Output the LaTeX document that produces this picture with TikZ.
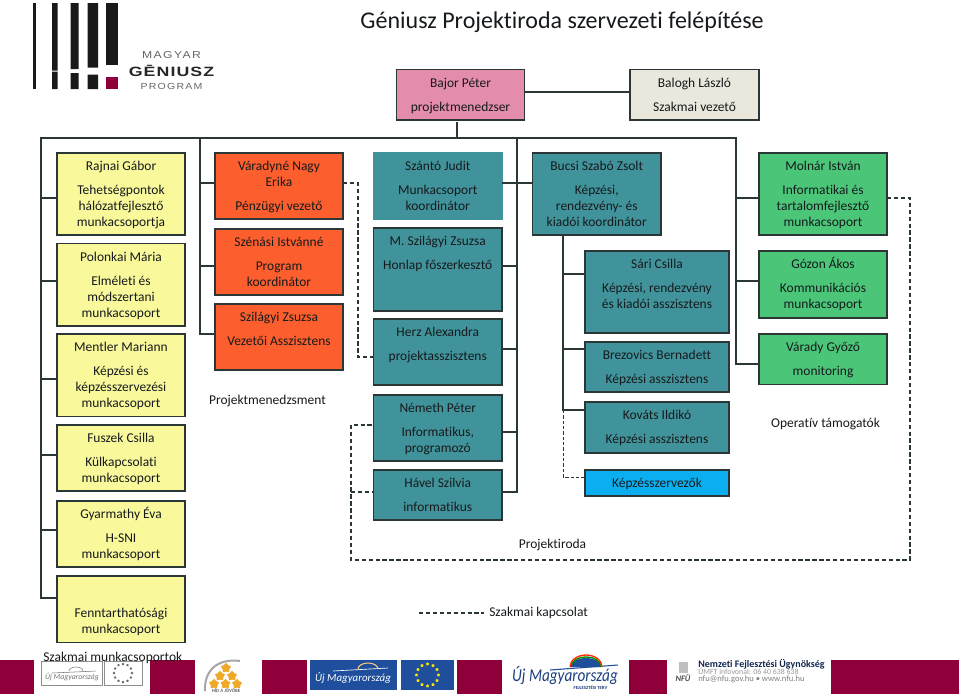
\documentclass[tikz,border=0pt]{standalone}
\usepackage{fontspec}
\setmainfont[Ligatures=NoCommon]{Carlito}
\newfontfamily\lgfont[LetterSpace=14,FakeStretch=1.2]{Liberation Sans}
\newfontfamily\lgbold[LetterSpace=8,FakeStretch=1.32]{Liberation Sans}
\usetikzlibrary{shapes.geometric,calc}
\definecolor{cyel}{HTML}{F9F99C}
\definecolor{cora}{HTML}{FC5F2D}
\definecolor{ctea}{HTML}{41939B}
\definecolor{cgre}{HTML}{4BC679}
\definecolor{cpin}{HTML}{E38CAC}
\definecolor{cbei}{HTML}{EAE8DC}
\definecolor{cblu}{HTML}{0BAEEE}
\definecolor{cmar}{HTML}{8F003A}
\definecolor{cedge}{HTML}{2B3636}
\definecolor{ctxt}{HTML}{161A1C}
\definecolor{cflag}{HTML}{1F4E9C}
\definecolor{cstar}{HTML}{F0A828}
\tikzset{
  boxs/.style={draw=cedge,line width=1.05pt,inner sep=0pt,outer sep=0pt,text=ctxt},
  conn/.style={draw=cedge,line width=1pt},
  dconn/.style={draw=cedge,line width=.9pt,dash pattern=on 3.2pt off 2pt},
  thin dconn/.style={draw=cedge,line width=.7pt,dash pattern=on 2.5pt off 1.5pt},
  lab/.style={inner sep=0pt,text=ctxt,font=\fontsize{10.1}{12}\selectfont},
  band/.style={fill=cmar,draw=none},
  eustar/.style={fill=#1,draw=none,star,star points=5,minimum size=2.6pt,inner sep=0pt}
}
\newcommand\bx[8][boxs]{%
  \pgfmathsetlengthmacro\bxw{(#5-#3)*0.75}%
  \pgfmathsetlengthmacro\bxh{(#6-#4)*0.75}%
  \node[#1,fill=#7,minimum width=\bxw,minimum height=\bxh] (#2) at ({(#3+#5)/2},{(#4+#6)/2})
    {\parbox[c][\bxh][t]{\bxw}{\centering\fontsize{10.1}{12}\selectfont\rule{0pt}{13.2pt}#8}};}
\newcommand\stub[3]{\draw[conn] (#1 |- 0,#3) -- (#2 |- 0,#3);}
\begin{document}
\begin{tikzpicture}[x=0.75pt,y=-0.75pt]
\useasboundingbox (0,0) rectangle (959,694);
% --- bottom band
\foreach \a/\b in {0/34,150/195,262/307,457/502,629/667,831/959}
  \fill[band] (\a,660) rectangle (\b,694);
% --- top-left logo
\fill[black!90] (33,3) rectangle (35.5,89);
\fill[black!90] (52,3) rectangle (57.5,70.5) (52,71.5) rectangle (57.5,89);
\fill[black!90] (70.5,3) rectangle (78.5,69) (70.5,73) rectangle (78.5,89);
\fill[black!90] (87.5,3) rectangle (98,67.5) (87.5,74.5) rectangle (98,89);
\fill[black!90] (105.5,3) rectangle (118,65);
\fill[cmar] (105.5,76.5) rectangle (118,89);
\node[inner sep=0pt,text=black!60,font=\lgfont\fontsize{7.6}{8}\selectfont] (lgA) at (171.5,55) {MAGYAR};
\node[inner sep=0pt,text=black!85,font=\lgbold\bfseries\fontsize{10.1}{10}\selectfont] (lgB) at (171.5,71) {GĒNIUSZ};
\node[inner sep=0pt,text=black!60,font=\lgfont\fontsize{6.6}{8}\selectfont] (lgC) at (171.5,86) {PROGRAM};
% --- title
\node[inner sep=0pt,text=ctxt,font=\fontsize{18}{20}\selectfont] (title) at (562,22) {Géniusz Projektiroda szervezeti felépítése};
% --- trunks
\coordinate (tA) at (41,138);
\coordinate (tB) at (200,138);
\coordinate (tC) at (517,138);
\coordinate (tD) at (736,138);
\coordinate (tS) at (457,138);
\coordinate (stem) at (563,235);
\coordinate (dOra) at (358,183);
\coordinate (dPro) at (351,560);
\coordinate (dRig) at (910,560);
% --- boxes
\bx{bajor}{396.5}{69.5}{524.5}{120}{cpin}{Bajor Péter\\[6pt]projektmenedzser}
\bx{balogh}{630}{69.5}{759}{120}{cbei}{Balogh László\\[6pt]Szakmai vezető}
\bx{rajnai}{57}{153}{185}{235}{cyel}{Rajnai Gábor\\[6pt]Tehetségpontok\\hálózatfejlesztő\\munkacsoportja}
\bx{polonkai}{57}{243.5}{185}{326}{cyel}{Polonkai Mária\\[6pt]Elméleti és\\módszertani\\munkacsoport}
\bx{mentler}{57}{334}{185}{416.5}{cyel}{Mentler Mariann\\[6pt]Képzési és\\képzésszervezési\\munkacsoport}
\bx{fuszek}{57}{425}{185}{491}{cyel}{Fuszek Csilla\\[6pt]Külkapcsolati\\munkacsoport}
\bx{gyarmathy}{57}{501}{185}{567}{cyel}{Gyarmathy Éva\\[6pt]H-SNI\\munkacsoport}
\bx{fenn}{57}{576}{185}{642.5}{cyel}{\\[6pt]Fenntarthatósági\\munkacsoport}
\bx{varadyne}{215}{153}{343}{219}{cora}{Váradyné Nagy\\Erika\\[6pt]Pénzügyi vezető}
\bx{szenasi}{215}{229}{343}{295}{cora}{Szénási Istvánné\\[6pt]Program\\koordinátor}
\bx{szilagyi}{215}{304}{343}{370}{cora}{Szilágyi Zsuzsa\\[6pt]Vezetői Asszisztens}
\bx[boxs,draw=ctea]{szanto}{373.5}{153}{502}{219}{ctea}{Szántó Judit\\[6pt]Munkacsoport\\koordinátor}
\bx{mszil}{373.5}{228}{502}{311}{ctea}{M. Szilágyi Zsuzsa\\[6pt]Honlap főszerkesztő}
\bx{herz}{373.5}{319}{502}{385}{ctea}{Herz Alexandra\\[6pt]projektasszisztens}
\bx{nemeth}{373.5}{395}{502}{461}{ctea}{Németh Péter\\[6pt]Informatikus,\\programozó}
\bx{havel}{373.5}{470}{502}{520}{ctea}{Hável Szilvia\\[6pt]informatikus}
\bx{bucsi}{532.5}{153}{661}{235}{ctea}{Bucsi Szabó Zsolt\\[6pt]Képzési,\\rendezvény- és\\kiadói koordinátor}
\bx{sari}{585}{251}{729}{333}{ctea}{Sári Csilla\\[6pt]Képzési, rendezvény\\és kiadói asszisztens}
\bx{brezo}{585}{342}{729}{392}{ctea}{Brezovics Bernadett\\[6pt]Képzési asszisztens}
\bx{kovats}{585}{402}{729}{453}{ctea}{Kováts Ildikó\\[6pt]Képzési asszisztens}
\bx{kepz}{585}{470}{729}{496}{cblu}{Képzésszervezők}
\bx{molnar}{759}{153}{887}{235}{cgre}{Molnár István\\[6pt]Informatikai és\\tartalomfejlesztő\\munkacsoport}
\bx{gozon}{759}{251}{887}{318}{cgre}{Gózon Ákos\\[6pt]Kommunikációs\\munkacsoport}
\bx{varady}{759}{334}{887}{384.5}{cgre}{Várady Győző\\[6pt]monitoring}
% --- free labels
\node[lab] (lProj) at (267.5,401) {Projektmenedzsment};
\node[lab] (lOper) at (825.5,424) {Operatív támogatók};
\node[lab] (lIrod) at (552.5,545) {Projektiroda};
\node[lab,anchor=west] (lKapc) at (489,613) {Szakmai kapcsolat};
\coordinate (lgnd) at (419,613);
\coordinate (lgndB) at (484,613);
% --- solid connectors
\draw[conn] (bajor.east |- 0,92) -- (balogh.west |- 0,92);
\draw[conn] (tS |- 0,122) -- (tS);
\draw[conn] (fenn.west |- 0,598) -- (41,598) -- (tA) -- (tD) -- (736,364) -- (varady.west |- 0,364);
\draw[conn] (tB) -- (200,334) -- (szilagyi.west |- 0,334);
\draw[conn] (tC) -- (517,492) -- (havel.east |- 0,492);
\stub{tA}{rajnai.west}{198}
\stub{tA}{polonkai.west}{281}
\stub{tA}{mentler.west}{379}
\stub{tA}{fuszek.west}{455}
\stub{tA}{gyarmathy.west}{530}
\stub{tB}{varadyne.west}{183}
\stub{tB}{szenasi.west}{266}
\stub{tC}{szanto.east}{183}
\stub{tC}{mszil.east}{266}
\stub{tC}{herz.east}{349}
\stub{tC}{nemeth.east}{432}
\stub{tC}{bucsi.west}{183}
\stub{tD}{molnar.west}{198}
\stub{tD}{gozon.west}{281}
\draw[conn] (stem) -- (563,410) -- (kovats.west |- 0,410);
\stub{stem}{sari.west}{274}
\stub{stem}{brezo.west}{349}
% --- dashed connectors
\draw[dconn] (varadyne.east |- dOra) -- (dOra) -- (358,357) -- (herz.west |- 0,357);
\draw[dconn] (molnar.east |- 0,198) -- (910,198) -- (dRig) -- (dPro) -- (351,425) -- (nemeth.west |- 0,425);
\draw[dconn] (dPro |- 0,492) -- (havel.west |- 0,492);
\draw[thin dconn] (563,410) -- (563,477) -- (kepz.west |- 0,477);
\draw[dconn,line width=.8pt] (lgnd) -- (lgndB);
% --- bottom logos: first
\draw[black!45,line width=.5pt] (41,661) rectangle (102,685) (104,661) rectangle (142,685);
\node[inner sep=0pt,text=black!55,font=\itshape\fontsize{5.8}{7}\selectfont] (u1) at (72,677) {Új Magyarország};
\draw[black!55,line width=.4pt] (52,673) -- (96,671);
\draw[black!55,line width=.4pt] (69,671) arc (180:360:7 and 4);
\foreach \k in {0,30,...,330}
  \node[eustar=black!60,minimum size=2pt] at ({123+9*cos(\k)},{673+9*sin(\k)}) {};
\node[inner sep=0pt,anchor=west,text=ctxt,font=\fontsize{10.1}{12}\selectfont] (lMunk) at (43,658) {Szakmai munkacsoportok};
% second
\draw[black!35,line width=1.5pt] (205,691) .. controls (204,670) and (218,658) .. (240,661);
\foreach \p/\q in {226/668,220/676,232/676,214/684,225.5/684,237/684}
  \node[eustar=cstar,minimum size=8pt] at (\p,\q) {};
\node[inner sep=0pt,text=black!60,font=\bfseries\fontsize{3.6}{4}\selectfont] (u2) at (226,690.5) {HÍD A JÖVŐBE};
% third
\fill[cflag] (310,660) rectangle (397,690);
\fill[cflag] (401,660) rectangle (454,690);
\node[inner sep=0pt,text=white,font=\itshape\fontsize{8.2}{9}\selectfont] (u3) at (353,678) {Új Magyarország};
\draw[white,line width=.5pt] (333,671) -- (388,668);
\draw[cstar!60!white,line width=.8pt] (358,669) arc (180:360:10 and 6);
\foreach \k in {0,30,...,330}
  \node[eustar=yellow!90!orange] at ({427.5+11*cos(\k)},{675+11*sin(\k)}) {};
% fourth
\fill[white] (502,653) rectangle (629,694);
\draw[cflag,line width=.8pt] (550,670) -- (618,665);
\fill[cflag] (571,667) arc (180:360:15 and 9) -- cycle;
\draw[green!55!black,line width=1pt] (571,667) arc (180:360:15 and 10);
\draw[red!70!orange,line width=1pt] (570,667) arc (180:360:16 and 12);
\node[inner sep=0pt,text=cflag!80!black,font=\itshape\fontsize{13.6}{14}\selectfont,xscale=.84,transform shape] (u4) at (565,675) {Új Magyarország};
\node[inner sep=0pt,text=cflag!80!black,font=\bfseries\fontsize{3.5}{4}\selectfont] (u5) at (590.5,688) {FEJLESZTÉSI TERV};
% NFU
\fill[black!25] (679,662) rectangle (688,673);
\node[inner sep=0pt,text=black!70,font=\itshape\bfseries\fontsize{6.3}{7}\selectfont] (nf0) at (683,678.5) {NFÜ};
\node[inner sep=0pt,anchor=west,text=cflag!50!black,font=\bfseries\fontsize{7.5}{8}\selectfont] (nf1) at (698,664) {Nemzeti Fejlesztési Ügynökség};
\node[inner sep=0pt,anchor=west,text=black!40,font=\fontsize{5.9}{6}\selectfont] (nf2) at (698,671.5) {ÚMFT infovonal: 06 40 638 638};
\node[inner sep=0pt,anchor=west,text=black!50,font=\fontsize{6.4}{7}\selectfont] (nf3) at (698,679) {nfu@nfu.gov.hu \textbullet{} www.nfu.hu};
\end{tikzpicture}
\end{document}
